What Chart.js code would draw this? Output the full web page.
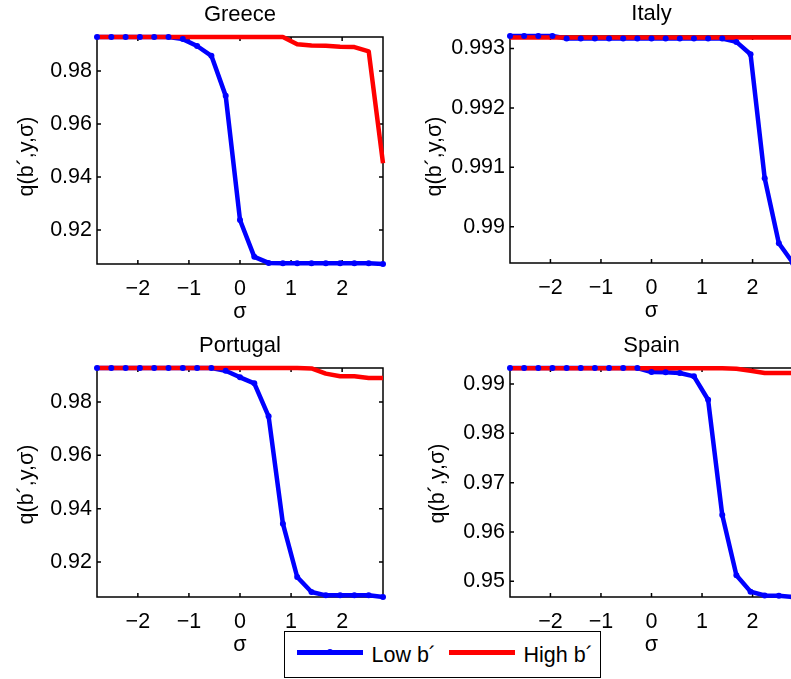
<!DOCTYPE html>
<html lang="en">
<head>
<meta charset="UTF-8">
<title>q(b',y,sigma)</title>
<script src="https://cdn.jsdelivr.net/npm/chart.js@4.4.0/dist/chart.umd.min.js"></script>
<style>
    body{
        margin: 0;
        padding: 0;
        background: #fff;
        width: 791px;
        height: 679px;
        overflow: hidden;
        position: relative;
        font-family: 'Liberation Sans', Arial, sans-serif;
    }
    canvas{
        position: absolute;
    }
    #legend{
        position: absolute;
        left: 284px;
        top: 631px;
        width: 317px;
        height: 47px;
        box-sizing: border-box;
        border: 1.5px solid #000;
        background: #fff;
    }
    #legend .ln{
        position: absolute;
        top: 18px;
        width: 66px;
        height: 4.5px;
    }
    #legend .dot{
        position: absolute;
        left: 41.5px;
        top: 17px;
        width: 6px;
        height: 6px;
        border-radius: 50%;
        background: #0000ff;
    }
    #legend span{
        position: absolute;
        top: 11px;
        font-size: 21.5px;
        line-height: 24px;
        color: #000;
        white-space: nowrap;
    }
</style>
</head>
<body>
<canvas id="greece" width="395" height="330" style="left:0;top:0"></canvas>
<canvas id="italy" width="410" height="330" style="left:395px;top:0"></canvas>
<canvas id="portugal" width="395" height="354" style="left:0;top:325px"></canvas>
<canvas id="spain" width="410" height="354" style="left:395px;top:325px"></canvas>
<div id="legend">
    <div class="ln" style="left:11.5px;background:#0000ff"></div>
    <div class="dot"></div>
    <span style="left:86.5px">Low b´</span>
    <div class="ln" style="left:163.5px;background:#ff0000"></div>
    <span style="left:238.5px">High b´</span>
</div>
<script>
// grid of sigma values (x axis)
const sigma = [-2.8, -2.52, -2.24, -1.96, -1.68, -1.4, -1.12, -0.84, -0.56, -0.28, 0,
               0.28, 0.56, 0.84, 1.12, 1.4, 1.68, 1.96, 2.24, 2.52, 2.8];
const xTicks = [-2, -1, 0, 1, 2];

const greeceLow  = [0.9928, 0.9928, 0.9928, 0.9928, 0.9928, 0.9928, 0.9920, 0.9894, 0.9857, 0.9706, 0.9238,
                    0.9099, 0.9076, 0.9075, 0.9075, 0.9075, 0.9075, 0.9075, 0.9075, 0.9075, 0.9072];
const greeceHigh = [0.9928, 0.9928, 0.9928, 0.9928, 0.9928, 0.9928, 0.9928, 0.9928, 0.9928, 0.9928, 0.9928,
                    0.9928, 0.9928, 0.9928, 0.9901, 0.9896, 0.9895, 0.9891, 0.9890, 0.9874, 0.9452];
const greeceTicks = [0.92, 0.94, 0.96, 0.98];

const italyLow  = [0.99321, 0.99321, 0.99321, 0.99321, 0.993168, 0.993168, 0.993168, 0.993168, 0.993168, 0.993168, 0.993168,
                   0.993168, 0.993168, 0.993168, 0.993168, 0.993168, 0.993111, 0.992904, 0.990815, 0.989723, 0.98939];
const italyHigh = [0.993185, 0.993185, 0.993185, 0.993185, 0.993185, 0.993185, 0.993185, 0.993185, 0.993185, 0.993185, 0.993185,
                   0.993185, 0.993185, 0.993185, 0.993185, 0.993185, 0.993185, 0.993185, 0.993185, 0.993185, 0.993185];
const italyTicks = [0.99, 0.991, 0.992, 0.993];

const portugalLow  = [0.99275, 0.99275, 0.99275, 0.99275, 0.99275, 0.99275, 0.99275, 0.99275, 0.99275, 0.99175, 0.98925,
                      0.9870, 0.97463, 0.93438, 0.91438, 0.90875, 0.9075, 0.9075, 0.9075, 0.9075, 0.90687];
const portugalHigh = [0.99275, 0.99275, 0.99275, 0.99275, 0.99275, 0.99275, 0.99275, 0.99275, 0.99275, 0.99275, 0.99275,
                      0.99275, 0.99275, 0.99275, 0.99275, 0.9926, 0.99063, 0.98963, 0.98963, 0.9890, 0.9890];
const portugalTicks = [0.92, 0.94, 0.96, 0.98];

const spainLow  = [0.99325, 0.99325, 0.99325, 0.99325, 0.99325, 0.99325, 0.99325, 0.99325, 0.99325, 0.99325, 0.99244,
                   0.99237, 0.99224, 0.99156, 0.98681, 0.96342, 0.95122, 0.9479, 0.94712, 0.94705, 0.94681];
const spainHigh = [0.99322, 0.99322, 0.99322, 0.99322, 0.99322, 0.99322, 0.99322, 0.99322, 0.99322, 0.99322, 0.99322,
                   0.99322, 0.99322, 0.99322, 0.99322, 0.99322, 0.9931, 0.9927, 0.99224, 0.99224, 0.99224];
const spainTicks = [0.95, 0.96, 0.97, 0.98, 0.99];

const BLUE = '#0000ff';
const RED = '#ff0000';
const FONT = "'Liberation Sans', Arial, sans-serif";

Chart.defaults.font.family = FONT;
Chart.defaults.font.size = 21.5;
Chart.defaults.color = '#000';

// box, inward ticks, title and axis labels (matlab style)
const frame = {
    id: 'frame',
    beforeDatasetsDraw(chart, args, o) {
        const {ctx, chartArea: a} = chart;
        const x = chart.scales.x, y = chart.scales.y;
        ctx.save();
        ctx.strokeStyle = '#000';
        ctx.lineWidth = 1.5;
        ctx.strokeRect(a.left, a.top, a.right - a.left, a.bottom - a.top);
        ctx.beginPath();
        x.ticks.forEach(t => {
            const px = x.getPixelForValue(t.value);
            ctx.moveTo(px, a.bottom); ctx.lineTo(px, a.bottom - 4);
            ctx.moveTo(px, a.top); ctx.lineTo(px, a.top + 4);
        });
        y.ticks.forEach(t => {
            const py = y.getPixelForValue(t.value);
            ctx.moveTo(a.left, py); ctx.lineTo(a.left + 4, py);
            // right-hand panels are cut by the page edge, no right ticks seen
            if (o.rightTicks) { ctx.moveTo(a.right, py); ctx.lineTo(a.right - 4, py); }
        });
        ctx.stroke();
        ctx.restore();
    },
    afterDraw(chart, args, o) {
        const {ctx, chartArea: a} = chart;
        const cx = (a.left + a.right) / 2;
        ctx.save();
        ctx.fillStyle = '#000';
        ctx.textAlign = 'center';
        ctx.textBaseline = 'alphabetic';
        ctx.font = '22px ' + FONT;
        ctx.fillText(o.title, cx, a.top - 16);
        ctx.font = '21.5px ' + FONT;
        ctx.fillText('σ', cx, a.bottom + 54);
        ctx.translate(a.left - o.labelGap, (a.top + a.bottom) / 2 + o.labelShift);
        ctx.rotate(-Math.PI / 2);
        ctx.fillText('q(b´,y,σ)', 0, 0);
        ctx.restore();
    }
};

function pts(arr) {
    return sigma.map((s, i) => ({x: s, y: arr[i]}));
}

function makePanel(id, title, low, high, yMin, yMax, yTicks, box) {
    new Chart(document.getElementById(id), {
        type: 'line',
        data: {
            datasets: [
                {label: 'Low b´', data: pts(low), borderColor: BLUE, borderWidth: 4.5,
                 pointRadius: 0, order: 3, clip: false, borderJoinStyle: 'round'},
                {label: 'High b´', data: pts(high), borderColor: RED, borderWidth: 4.5,
                 pointRadius: 0, order: 2, clip: false, borderJoinStyle: 'round'},
                {label: 'Low b´ points', data: pts(low), showLine: false, pointRadius: 3,
                 pointBorderWidth: 0, pointBackgroundColor: BLUE, order: 1, clip: false}
            ]
        },
        options: {
            responsive: false,
            animation: false,
            events: [],
            layout: {padding: {top: box.top, right: box.right, left: 0, bottom: 0}},
            plugins: {
                legend: {display: false},
                tooltip: {enabled: false},
                frame: {title: title, labelGap: box.labelGap, labelShift: box.labelShift,
                        rightTicks: box.rightTicks}
            },
            scales: {
                x: {
                    type: 'linear',
                    min: -2.8,
                    max: 2.8,
                    grid: {display: false, drawTicks: false},
                    border: {display: false},
                    afterBuildTicks: s => { s.ticks = xTicks.map(v => ({value: v})); },
                    afterFit: s => { s.height = box.xH; },
                    ticks: {
                        padding: 12,
                        maxRotation: 0,
                        autoSkip: false,
                        callback: v => v < 0 ? '\u2212' + (-v) : String(v)
                    }
                },
                y: {
                    min: yMin,
                    max: yMax,
                    grid: {display: false, drawTicks: false},
                    border: {display: false},
                    afterBuildTicks: s => { s.ticks = yTicks.map(v => ({value: v})); },
                    afterFit: s => { s.width = box.yW; },
                    ticks: {
                        padding: 5,
                        autoSkip: false,
                        callback: v => String(Number(v.toFixed(4)))
                    }
                }
            }
        },
        plugins: [frame]
    });
}

makePanel('greece', 'Greece', greeceLow, greeceHigh, 0.9072, 0.9928, greeceTicks,
          {top: 37, right: 12, yW: 97, xH: 66, labelGap: 64.5, labelShift: 6, rightTicks: true});
makePanel('italy', 'Italy', italyLow, italyHigh, 0.98939, 0.99321, italyTicks,
          {top: 36, right: 12, yW: 115, xH: 67, labelGap: 69, labelShift: 7, rightTicks: false});
makePanel('portugal', 'Portugal', portugalLow, portugalHigh, 0.90687, 0.99275, portugalTicks,
          {top: 43, right: 12, yW: 97, xH: 82, labelGap: 64.5, labelShift: 2, rightTicks: true});
makePanel('spain', 'Spain', spainLow, spainHigh, 0.94681, 0.99325, spainTicks,
          {top: 43, right: 12, yW: 115, xH: 82, labelGap: 66, labelShift: 1, rightTicks: false});
</script>
</body>
</html>
